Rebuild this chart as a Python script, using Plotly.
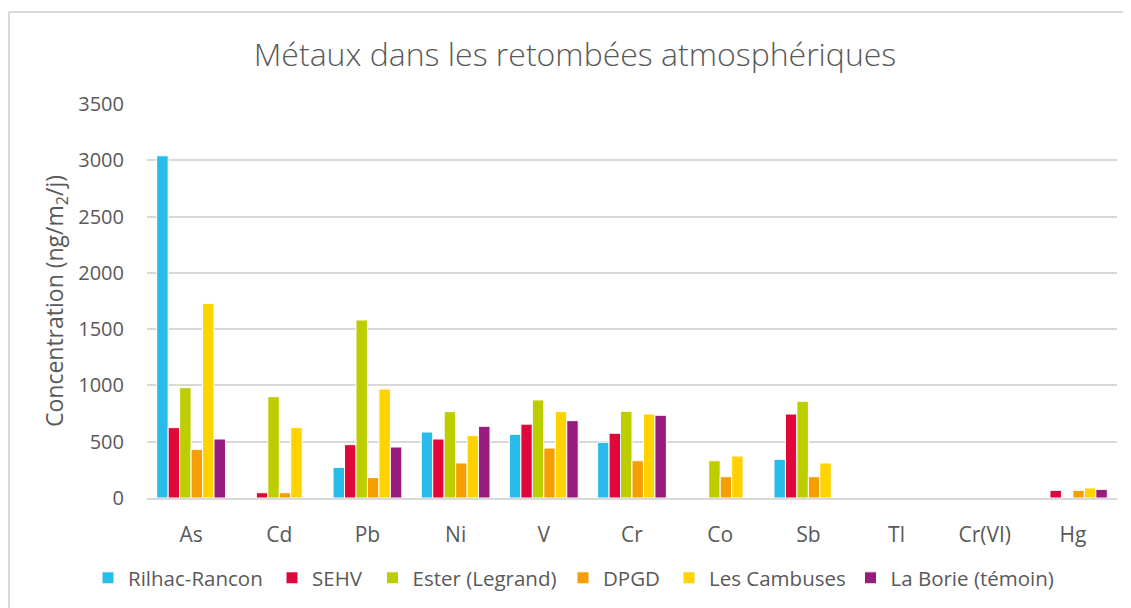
import plotly.graph_objects as go

categories = ["As", "Cd", "Pb", "Ni", "V", "Cr", "Co", "Sb", "Tl", "Cr(VI)", "Hg"]

rilhac = [3040, None, 272, 586, 566, 495, None, 344, None, None, None]
sehv = [625, 47, 474, 524, 656, 575, None, 746, None, None, 68]
ester = [980, 900, 1581, 767, 871, 770, 331, 859, None, None, None]
dpgd = [432, 47, 181, 311, 444, 331, 189, 189, None, None, 68]
cambuses = [1729, 625, 968, 554, 768, 746, 373, 311, None, None, 89]
borie = [524, None, 453, 637, 687, 735, None, None, None, None, 77]

series_names = ["Rilhac-Rancon", "SEHV", "Ester (Legrand)", "DPGD", "Les Cambuses", "La Borie (témoin)"]
series_values = [rilhac, sehv, ester, dpgd, cambuses, borie]
colors = ["#29BBE9", "#E0073A", "#BCCD00", "#F59E00", "#FFD200", "#981B7E"]

y_ticks = [0, 500, 1000, 1500, 2000, 2500, 3000, 3500]

font_family = "Open Sans, Noto Sans, sans-serif"
# page body has an 8px margin: lay out in figure pixels = reference pixels - 8
OFF = 8
W, H = 1131 - OFF, 608 - OFF
L, R, T, B = 147 - OFF, 14, 104 - OFF, 110
pw, ph = W - L - R, H - T - B

def px_x(p):
    return (p - OFF - L) / pw

def px_y(p):
    return (H - B - (p - OFF)) / ph

# legend entry positions (reference pixel x of each swatch centre)
legend_swatch_x = [113, 297, 397.5, 588, 694, 875.5]

fig = go.Figure()
legend_layouts = {}
for i, (name, vals, col) in enumerate(zip(series_names, series_values, colors)):
    lname = "legend" if i == 0 else f"legend{i + 1}"
    fig.add_trace(go.Bar(
        x=categories, y=vals, name=name, legend=lname, showlegend=True,
        marker=dict(color=col, line=dict(color="white", width=1)),
    ))
    legend_layouts[lname] = dict(
        orientation="h", x=px_x(legend_swatch_x[i] - 25), xanchor="left",
        y=px_y(578), yanchor="middle",
        font=dict(size=20.5, color="#595959", family=font_family),
        itemwidth=30, bgcolor="rgba(0,0,0,0)",
    )

fig.update_layout(
    width=W, height=H,
    showlegend=True,
    margin=dict(l=L, r=R, t=T, b=B, autoexpand=False),
    paper_bgcolor="white", plot_bgcolor="white",
    barmode="group", bargap=0.22, bargroupgap=0,
    font=dict(family=font_family, color="#595959", size=20),
    title=dict(
        text="Métaux dans les retombées atmosphériques",
        x=(575 - OFF) / W, xref="container", xanchor="center",
        y=1 - (55 - OFF) / H, yref="container", yanchor="middle",
        font=dict(size=32, color="#595959", family=font_family, weight=300),
    ),
    xaxis=dict(
        showgrid=False, showline=True, linecolor="#d9d9d9", linewidth=2,
        ticks="", ticklabelstandoff=17,
        tickfont=dict(size=21, color="#595959"),
    ),
    yaxis=dict(
        range=[0, 3500], tickvals=y_ticks, ticktext=[str(v) for v in y_ticks],
        showgrid=True, gridcolor="#d9d9d9", gridwidth=2,
        zeroline=False, showline=False,
        ticks="", ticklabelstandoff=22,
        tickfont=dict(size=20, color="#595959"),
        title=dict(text="Concentration (ng/m<sub>2</sub>/j)", standoff=8,
                   font=dict(size=23, color="#595959")),
    ),
    shapes=[
        dict(type="line", xref="paper", yref="paper",
             x0=px_x(9), x1=px_x(9), y0=px_y(620), y1=px_y(12),
             line=dict(color="#d9d9d9", width=2)),
        dict(type="line", xref="paper", yref="paper",
             x0=px_x(9), x1=px_x(1140), y0=px_y(12), y1=px_y(12),
             line=dict(color="#d9d9d9", width=2)),
    ],
    **legend_layouts,
)

fig.write_html("out.html")
